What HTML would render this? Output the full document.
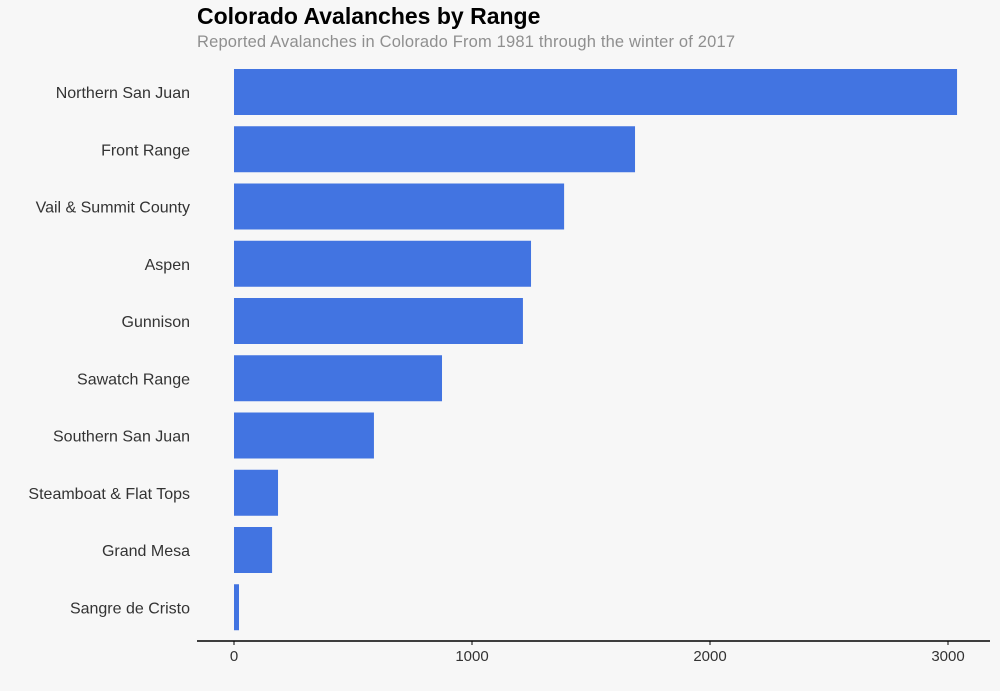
<!DOCTYPE html>
<html><head><meta charset="utf-8"><style>
body{margin:0;background:#f7f7f7;}
svg{display:block;font-family:"Liberation Sans",sans-serif;}
</style></head><body>
<svg width="1000" height="691">
<rect width="1000" height="691" fill="#f7f7f7"/>
<text x="197" y="24" font-size="23" font-weight="bold" fill="#000">Colorado Avalanches by Range</text>
<text x="197" y="47" font-size="16.5" fill="#8f8f8f" textLength="538">Reported Avalanches in Colorado From 1981 through the winter of 2017</text>
<g id="bars"></g>
<line x1="197" x2="990" y1="641" y2="641" stroke="#000" stroke-width="1.5"/>
<g id="ticks"></g>
</svg>
<script>
const categories=["Northern San Juan","Front Range","Vail & Summit County","Aspen","Gunnison","Sawatch Range","Southern San Juan","Steamboat & Flat Tops","Grand Mesa","Sangre de Cristo"];
const values=[3038,1685,1387,1248,1214,874,588,185,160,21];
const tickValues=[0,1000,2000,3000];
const NS="http://www.w3.org/2000/svg";
const x=v=>234+v*0.238;
const y=i=>69+i*57.25;
const bh=46;
const bars=document.getElementById('bars');
categories.forEach((c,i)=>{
  const r=document.createElementNS(NS,'rect');
  r.setAttribute('x',x(0));r.setAttribute('y',y(i));
  r.setAttribute('width',x(values[i])-x(0));r.setAttribute('height',bh);
  r.setAttribute('fill','#4274e1');
  
  
  bars.appendChild(r);
  const t=document.createElementNS(NS,'text');
  t.setAttribute('x',190);t.setAttribute('y',y(i)+bh/2+6);
  t.setAttribute('text-anchor','end');t.setAttribute('font-size','16');t.setAttribute('fill','#333');
  t.textContent=c;
  
  
  bars.appendChild(t);
});
const ticks=document.getElementById('ticks');
tickValues.forEach(v=>{
  const l=document.createElementNS(NS,'line');
  l.setAttribute('x1',x(v));l.setAttribute('x2',x(v));l.setAttribute('y1',641);l.setAttribute('y2',645);
  l.setAttribute('stroke','#000');
  
  
  ticks.appendChild(l);
  const t=document.createElementNS(NS,'text');
  t.setAttribute('x',x(v));t.setAttribute('y',661);t.setAttribute('text-anchor','middle');
  t.setAttribute('font-size','15');t.setAttribute('fill','#333');
  t.textContent=v;
  
  
  ticks.appendChild(t);
});
</script>
</body></html>
